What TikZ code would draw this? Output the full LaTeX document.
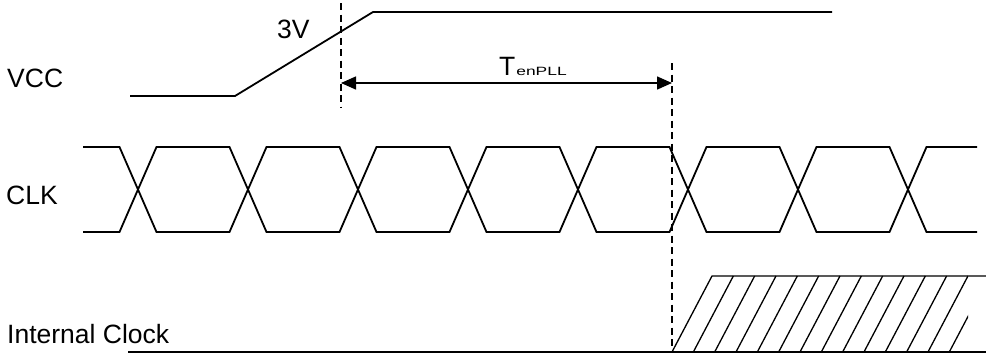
\documentclass[tikz,border=0pt]{standalone}
\usepackage{fontspec}
\usepackage{graphicx}
\setmainfont{Liberation Sans}
\usetikzlibrary{arrows.meta}
\begin{document}
\begin{tikzpicture}[x=1pt,y=-1pt,
  sig/.style={line width=1.8pt, line join=miter},
  guide/.style={line width=1.6pt, dash pattern=on 7pt off 4.5pt},
  hatchline/.style={line width=1.3pt},
  dimline/.style={line width=1.5pt, {Triangle[length=15pt,width=13pt]}-{Triangle[length=15pt,width=13pt]}},
  lbl/.style={inner sep=0pt, anchor=base west, font=\fontsize{26.5}{30}\selectfont}]
\useasboundingbox (0,0) rectangle (986,354);

% labels
\node[lbl] (vcc) at (7,87) {VCC};
\node[lbl] (threev) at (277,38) {3V};
\node[lbl] (clk) at (6,204) {CLK};
\node[lbl] (intclk) at (7,343) {Internal Clock};
\node[lbl] (tpll) at (499,75) {T\hspace{1pt}{\fontsize{12}{12}\selectfont\scalebox{1.45}[1]{enPLL}}};

% VCC waveform
\coordinate (v0) at (130,96);
\coordinate (v1) at (235,96);
\coordinate (v2) at (373,12);
\coordinate (v3) at (832,12);
\draw[sig] (v0) -- (v1) -- (v2) -- (v3);

% guide lines
\coordinate (g1t) at (341,3);
\coordinate (g1b) at (341,108);
\coordinate (g2t) at (672,63);
\coordinate (g2b) at (672,352);
\draw[guide] (g1t) -- (g1b);
\draw[guide] (g2t) -- (g2b);

% TenPLL dimension
\coordinate (a1) at (341,83);
\coordinate (a2) at (672,83);
\draw[dimline] (a1) -- (a2);

% CLK
\draw[sig] (83,147) -- (119.5,147) -- (156.5,232) -- (229.5,232) -- (266.5,147) -- (339.5,147) -- (376.5,232) -- (449.5,232) -- (486.5,147) -- (559.5,147) -- (596.5,232) -- (669.5,232) -- (706.5,147) -- (779.5,147) -- (816.5,232) -- (889.5,232) -- (926.5,147) -- (977,147);
\draw[sig] (83,232) -- (119.5,232) -- (156.5,147) -- (229.5,147) -- (266.5,232) -- (339.5,232) -- (376.5,147) -- (449.5,147) -- (486.5,232) -- (559.5,232) -- (596.5,147) -- (669.5,147) -- (706.5,232) -- (779.5,232) -- (816.5,147) -- (889.5,147) -- (926.5,232) -- (977,232);

% Internal clock
\coordinate (i0) at (128,352);
\coordinate (i1) at (986,352);
\coordinate (h0) at (672,352);
\coordinate (h1) at (712,276);
\coordinate (h2) at (986,276);
\draw[sig] (i0) -- (i1);
\draw[hatchline] (h0) -- (h1) -- (h2);
\begin{scope}
  \clip (600,260) rectangle (968,360);
  \foreach \k in {1,...,13} {
    \draw[hatchline] (672+21.33*\k,352) -- ++(40,-76);
  }
\end{scope}
\end{tikzpicture}
\end{document}
